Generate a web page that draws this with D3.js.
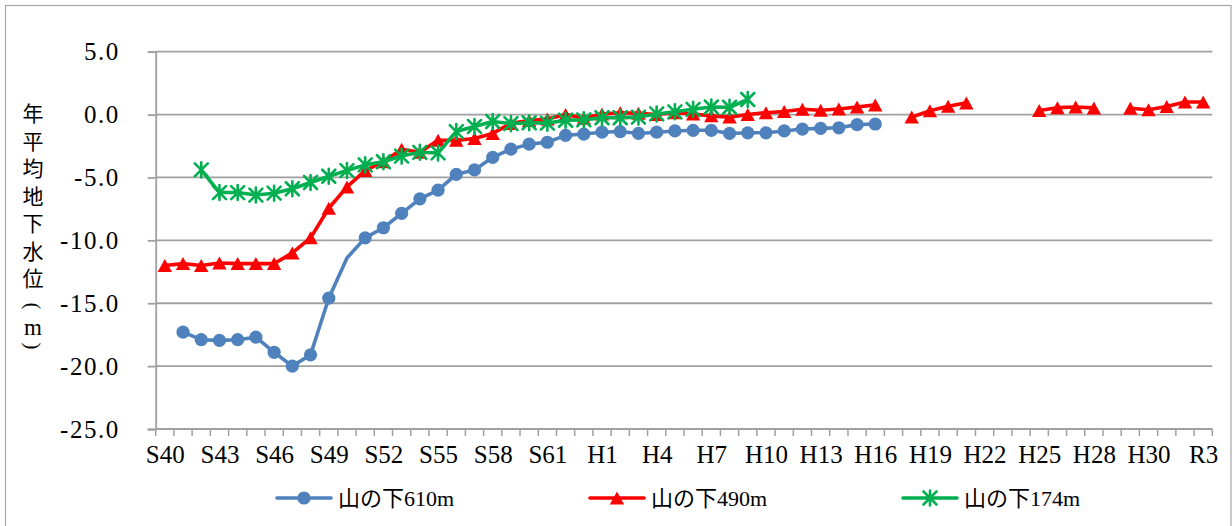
<!DOCTYPE html>
<html><head><meta charset="utf-8">
<script src="https://cdn.jsdelivr.net/npm/d3@7"></script>
<style>
html,body{margin:0;padding:0;background:#fff;}
svg{display:block;}
</style>
</head><body>
<svg id="chart" width="1232" height="526"></svg>
<script>
// ---- data ----
const categories = [
  "S40","S41","S42","S43","S44","S45","S46","S47","S48","S49",
  "S50","S51","S52","S53","S54","S55","S56","S57","S58","S59",
  "S60","S61","S62","S63","H1","H2","H3","H4","H5","H6",
  "H7","H8","H9","H10","H11","H12","H13","H14","H15","H16",
  "H17","H18","H19","H20","H21","H22","H23","H24","H25","H26",
  "H27","H28","","H29","H30","R1","R2","R3"
];
const tickLabelEvery = 3;
const xTickLabels = ["S40","S43","S46","S49","S52","S55","S58","S61","H1","H4","H7","H10","H13","H16","H19","H22","H25","H28","H30","R3"];
const yTicks = [5, 0, -5, -10, -15, -20, -25];
const yTitle = ["年","平","均","地","下","水","位","(","m",")"];
const seriesNames = ["山の下610m", "山の下490m", "山の下174m"];

const well610 = [
  null,-17.3,-17.9,-17.95,-17.9,-17.7,-18.9,-20.0,-19.1,-14.6,
  -11.4,-9.8,-9.0,-7.85,-6.7,-6.0,-4.75,-4.4,-3.4,-2.75,
  -2.35,-2.2,-1.65,-1.55,-1.4,-1.35,-1.5,-1.4,-1.3,-1.25,
  -1.25,-1.5,-1.45,-1.45,-1.3,-1.15,-1.1,-1.05,-0.8,-0.75,
  null,null,null,null,null,null,null,null,null,null,
  null,null,null,null,null,null,null,null
];
const well610NoMarker = ["S50"];
const well490 = [
  -12.0,-11.85,-12.0,-11.8,-11.85,-11.85,-11.85,-11.0,-9.8,-7.45,
  -5.75,-4.45,-3.75,-2.75,-3.0,-2.05,-2.05,-1.9,-1.5,-0.7,
  -0.48,-0.36,0.0,-0.3,0.05,0.15,0.1,0.0,0.15,0.05,
  -0.1,-0.2,0.0,0.15,0.25,0.42,0.35,0.45,0.6,0.77,
  null,-0.2,0.3,0.66,0.93,null,null,null,0.33,0.55,
  0.6,0.53,null,0.5,0.38,0.65,1.0,1.0
];
const well174 = [
  null,null,-4.4,-6.2,-6.2,-6.4,-6.25,-5.9,-5.4,-4.9,
  -4.45,-4.0,-3.75,-3.3,-3.0,-3.05,-1.35,-0.95,-0.55,-0.72,
  -0.65,-0.68,-0.45,-0.42,-0.25,-0.25,-0.2,0.05,0.22,0.42,
  0.6,0.58,1.2,null,null,null,null,null,null,null,
  null,null,null,null,null,null,null,null,null,null,
  null,null,null,null,null,null,null,null
];

// ---- layout ----
const SERIF = "'Liberation Serif', 'DejaVu Serif', serif";
const MIXED = "'Liberation Serif', 'DejaVu Serif', 'Noto Sans CJK JP', serif";
const CJK = "'Noto Sans CJK JP', sans-serif";
const svg = d3.select("#chart");
const plot = {left: 155.7, right: 1212.3, top: 51.7, bottom: 429};
const gridColor = "#a0a0a0";
const colors = ["#4F81BD", "#FF0000", "#00B050"];

// outer frame
svg.append("rect").attr("x", 5.5).attr("y", 5.5).attr("width", 1225.5).attr("height", 540)
  .attr("fill", "#fff").attr("stroke", "#a6a6a6").attr("stroke-width", 1.2);

const x = d3.scaleBand().domain(d3.range(categories.length)).range([plot.left, plot.right]).padding(0);
const cx = i => x(i) + x.bandwidth() / 2;
const y = d3.scaleLinear().domain([-25, 5]).range([plot.bottom, plot.top]);

// gridlines
svg.append("g").selectAll("line").data(yTicks).join("line")
  .attr("x1", plot.left).attr("x2", plot.right)
  .attr("y1", d => y(d)).attr("y2", d => y(d))
  .attr("stroke", gridColor).attr("stroke-width", 1.8);

// y axis
const yAxis = svg.append("g").attr("transform", `translate(${plot.left},0)`)
  .call(d3.axisLeft(y).tickValues(yTicks).tickSize(8).tickPadding(28)
    .tickFormat(d => d3.format(".1f")(d).replace("−", "-")));
yAxis.attr("font-family", SERIF).attr("font-size", 25);
yAxis.select(".domain").attr("stroke", gridColor).attr("stroke-width", 1.8);
yAxis.selectAll(".tick line").attr("stroke", gridColor).attr("stroke-width", 1.8);
yAxis.selectAll(".tick text").style("font-family", SERIF).style("font-size", "25px")
  .attr("letter-spacing", 1.5).attr("fill", "#000");

// x axis (labels at centers, tick marks at category boundaries)
const labelIdx = d3.range(0, categories.length, tickLabelEvery);
const xAxis = svg.append("g").attr("transform", `translate(0,${plot.bottom})`)
  .call(d3.axisBottom(d3.scalePoint().domain(labelIdx).range([cx(0), cx(labelIdx[labelIdx.length - 1])]))
    .tickSize(0).tickPadding(16)
    .tickFormat((d, i) => xTickLabels[i]));
xAxis.attr("font-family", SERIF).attr("font-size", 25);
xAxis.select(".domain").remove();
xAxis.selectAll(".tick text").style("font-family", SERIF).style("font-size", "25px").attr("fill", "#000");
svg.append("line").attr("x1", plot.left).attr("x2", plot.right)
  .attr("y1", plot.bottom).attr("y2", plot.bottom)
  .attr("stroke", gridColor).attr("stroke-width", 1.8);
svg.append("g").selectAll("line").data(d3.range(categories.length + 1)).join("line")
  .attr("x1", i => plot.left + i * x.bandwidth()).attr("x2", i => plot.left + i * x.bandwidth())
  .attr("y1", plot.bottom).attr("y2", plot.bottom + 7)
  .attr("stroke", gridColor).attr("stroke-width", 1.5);

// y title (vertical, one glyph per row; parentheses turned for vertical writing)
const titleRows = [112, 139.5, 167, 194.5, 222, 249.5, 277, 306, 327, 346];
yTitle.forEach((ch, k) => {
  const t = svg.append("text").attr("text-anchor", "middle")
    .attr("dominant-baseline", "central").attr("fill", "#000");
  if (ch === "(" || ch === ")") {
    t.style("font-family", SERIF).style("font-size", "21px")
      .attr("transform", `translate(33,${titleRows[k]}) rotate(90)`);
  } else if (ch === "m") {
    t.style("font-family", SERIF).style("font-size", "23px").attr("x", 33).attr("y", titleRows[k]);
  } else {
    t.style("font-family", CJK).style("font-size", "21px").attr("x", 33).attr("y", titleRows[k]);
  }
  t.text(ch);
});

// ---- series ----
const markerPaths = {
  triangle: "M0,-6.5L7.2,6.5L-7.2,6.5Z",
  star: "M0,-7.5V7.5M-6.5,-6.5L6.5,6.5M-6.5,6.5L6.5,-6.5"
};
function drawMarker(g, type, color) {
  if (type === "circle") {
    g.append("circle").attr("r", 6.6).attr("fill", color);
  } else if (type === "triangle") {
    g.append("path").attr("d", markerPaths.triangle).attr("fill", color);
  } else {
    g.append("path").attr("d", markerPaths.star).attr("fill", "none")
      .attr("stroke", color).attr("stroke-width", 2.6).attr("stroke-linecap", "round");
  }
}
const series = [
  {name: seriesNames[0], values: well610, color: colors[0], marker: "circle", noMarker: well610NoMarker},
  {name: seriesNames[1], values: well490, color: colors[1], marker: "triangle", noMarker: []},
  {name: seriesNames[2], values: well174, color: colors[2], marker: "star", noMarker: []}
];
const line = d3.line().defined(d => d.v !== null).x(d => cx(d.i)).y(d => y(d.v));
series.forEach(s => {
  const pts = s.values.map((v, i) => ({i, v}));
  svg.append("path").datum(pts).attr("d", line).attr("fill", "none")
    .attr("stroke", s.color).attr("stroke-width", 3.6)
    .attr("stroke-linejoin", "round").attr("stroke-linecap", "round");
  pts.filter(p => p.v !== null && !s.noMarker.includes(categories[p.i])).forEach(p => {
    const g = svg.append("g").attr("transform", `translate(${cx(p.i)},${y(p.v)})`);
    drawMarker(g, s.marker, s.color);
  });
});

// ---- legend ----
const legendY = 498;
const legendX = [277, 590, 903];
series.forEach((s, k) => {
  const lx = legendX[k];
  svg.append("line").attr("x1", lx).attr("x2", lx + 54).attr("y1", legendY).attr("y2", legendY)
    .attr("stroke", s.color).attr("stroke-width", 3.6).attr("stroke-linecap", "round");
  const g = svg.append("g").attr("transform", `translate(${lx + 27},${legendY})`);
  drawMarker(g, s.marker, s.color);
  svg.append("text").style("font-family", MIXED).style("font-size", "22px").attr("fill", "#000")
    .attr("x", lx + 61).attr("y", legendY)
    .attr("dominant-baseline", "central").text(s.name);
});
</script>
</body></html>
